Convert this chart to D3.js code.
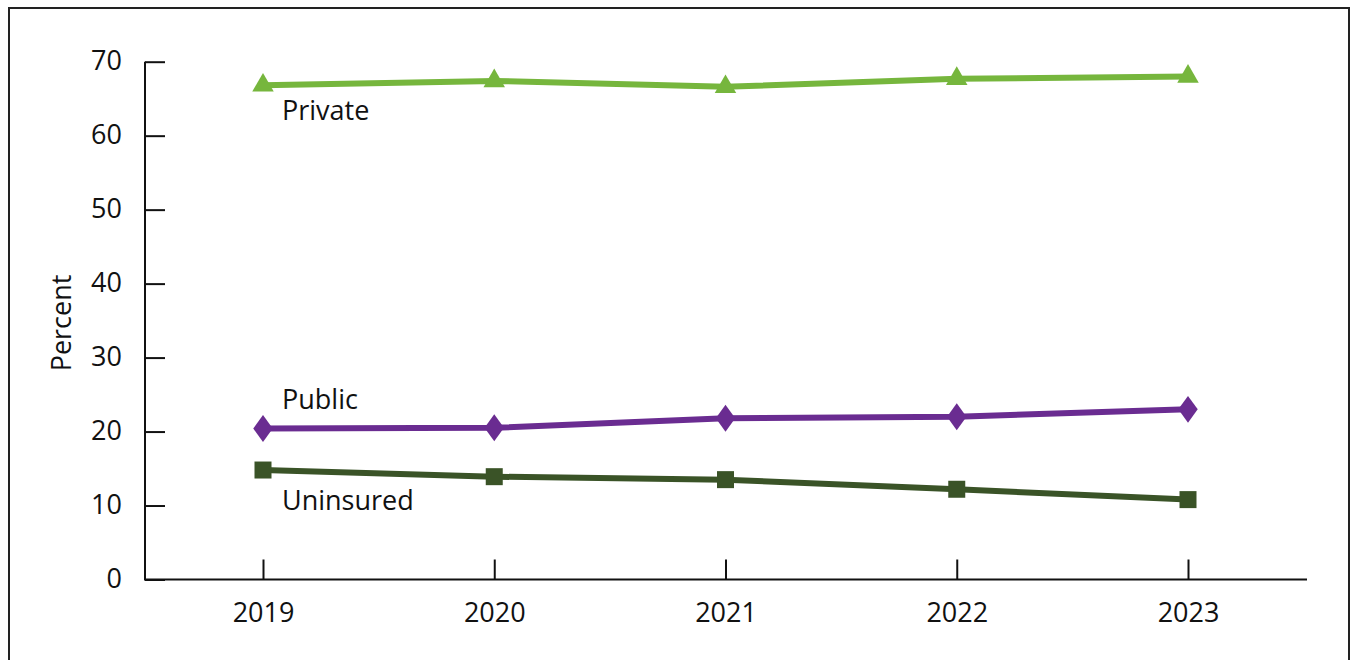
<!DOCTYPE html>
<html>
<head>
<meta charset="utf-8">
<script src="https://cdn.jsdelivr.net/npm/d3@7"></script>
<style>
  html, body { margin: 0; padding: 0; background: #fff; }
  svg { display: block; }
  text { font-family: "Open Sans", "Noto Sans", sans-serif; fill: #111; }
</style>
</head>
<body>
<svg id="chart" width="1355" height="660"></svg>
<script>
// Health insurance coverage, percent of population, 2019–2023
const years = ["2019", "2020", "2021", "2022", "2023"];
const privateValues = [66.8, 67.4, 66.6, 67.7, 68.0];
const publicValues = [20.4, 20.5, 21.8, 22.0, 23.0];
const uninsuredValues = [14.8, 13.9, 13.5, 12.2, 10.8];
const yTicks = [0, 10, 20, 30, 40, 50, 60, 70];

const series = [
  { name: "Private", values: privateValues, color: "#76b63d", marker: d3.symbolTriangle, size: 200, dy: 35 },
  { name: "Public", values: publicValues, color: "#6a2c91", marker: d3.symbolDiamond, size: 210, dy: -20 },
  { name: "Uninsured", values: uninsuredValues, color: "#3a5327", marker: d3.symbolSquare, size: 289, dy: 40 }
];

const svg = d3.select("#chart");

// outer frame
svg.append("rect")
  .attr("x", 9).attr("y", 8)
  .attr("width", 1340).attr("height", 680)
  .attr("fill", "none").attr("stroke", "#222").attr("stroke-width", 2);

const plotLeft = 145, plotRight = 1307, plotTop = 61.7, plotBottom = 579.5;

const x = d3.scalePoint().domain(years).range([263, 1188]);
const y = d3.scaleLinear().domain([0, 70]).range([plotBottom, plotTop]);

// y axis: ticks pointing into the plot
const yAxis = svg.append("g").attr("transform", `translate(${plotLeft},0)`)
  .call(d3.axisRight(y).tickValues(yTicks).tickSize(20).tickFormat(d3.format("d")));
yAxis.select(".domain").remove();
yAxis.selectAll(".tick line").attr("stroke", "#111").attr("stroke-width", 2);
yAxis.selectAll(".tick text")
  .attr("x", -23).attr("dy", "0.3em")
  .attr("text-anchor", "end")
  .style("font-size", "27px").style("font-family", "'Open Sans', sans-serif").attr("fill", "#111");

// x axis: ticks pointing up
const xAxis = svg.append("g").attr("transform", `translate(0,${plotBottom})`)
  .call(d3.axisTop(x).tickSize(20));
xAxis.select(".domain").remove();
xAxis.selectAll(".tick line").attr("stroke", "#111").attr("stroke-width", 2);
xAxis.selectAll(".tick text")
  .attr("y", 42).attr("dy", "0")
  .style("font-size", "27px").style("font-family", "'Open Sans', sans-serif").attr("fill", "#111");

// axis lines
svg.append("path")
  .attr("d", `M${plotLeft},${plotTop}V${plotBottom}H${plotRight}`)
  .attr("fill", "none").attr("stroke", "#111").attr("stroke-width", 2);

// y axis title
svg.append("text")
  .attr("transform", `translate(71,323) rotate(-90)`)
  .attr("text-anchor", "middle")
  .style("font-size", "27px")
  .text("Percent");

const line = d3.line().x((d, i) => x(years[i])).y(d => y(d));

series.forEach(s => {
  const g = svg.append("g");
  g.append("path")
    .attr("d", line(s.values))
    .attr("fill", "none")
    .attr("stroke", s.color)
    .attr("stroke-width", 6);
  g.selectAll("path.marker")
    .data(s.values)
    .join("path")
    .attr("class", "marker")
    .attr("d", d3.symbol().type(s.marker).size(s.size))
    .attr("transform", (d, i) => {
      const base = `translate(${x(years[i])},${y(d)})`;
      return s.marker === d3.symbolDiamond ? base + " scale(1.25,1)" : base;
    })
    .attr("fill", s.color);
  g.append("text")
    .attr("x", 282)
    .attr("y", y(s.values[0]) + s.dy)
    .style("font-size", "27px")
    .text(s.name);
});
</script>
</body>
</html>
